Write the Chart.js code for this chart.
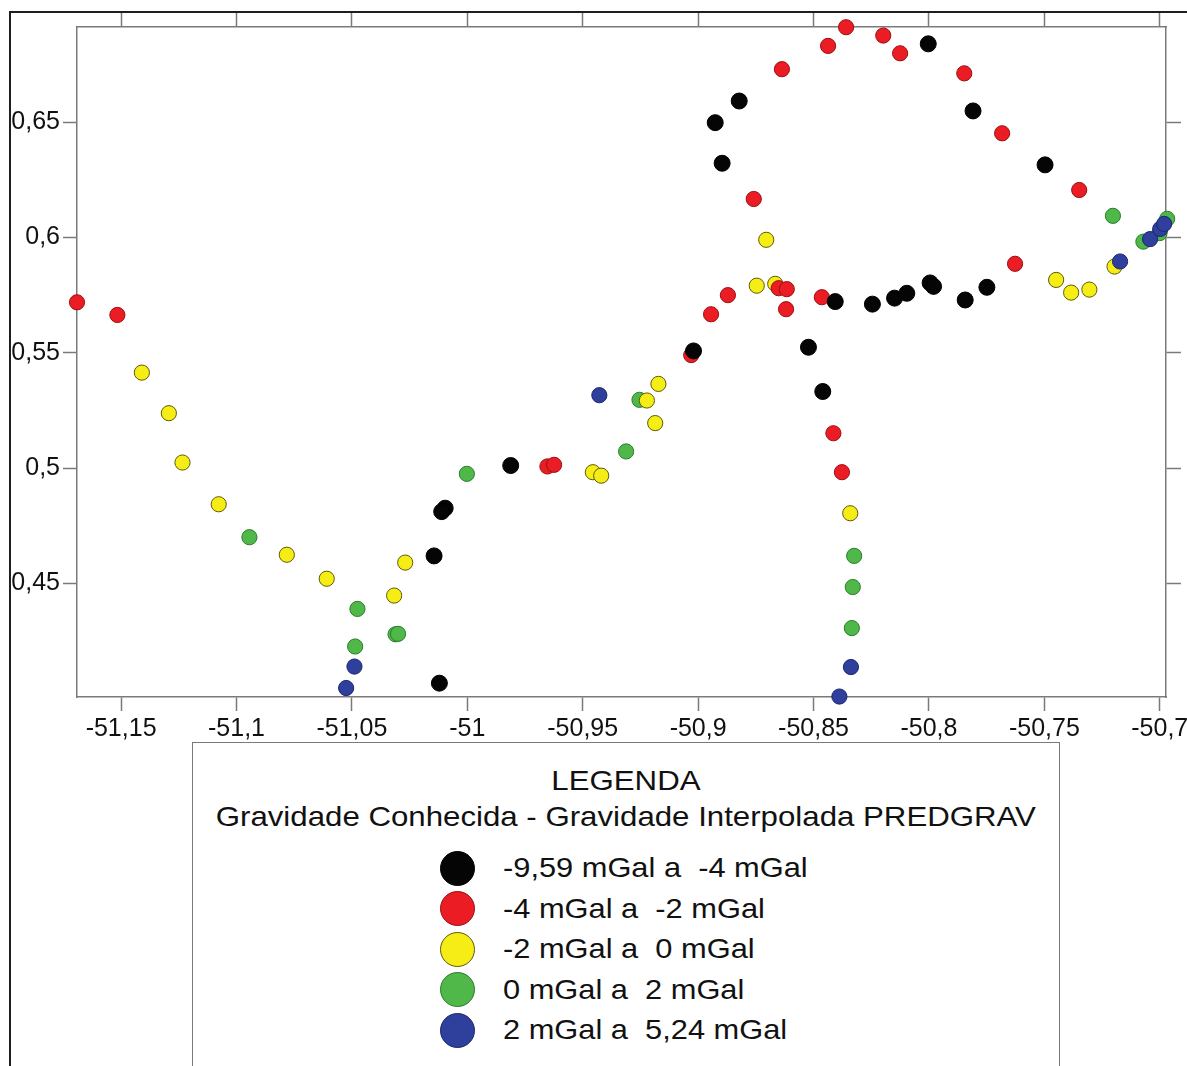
<!DOCTYPE html>
<html lang="pt-BR">
<head>
<meta charset="utf-8">
<title>Gravidade Conhecida - Gravidade Interpolada PREDGRAV</title>
<script src="https://cdn.jsdelivr.net/npm/chart.js@4.4.1/dist/chart.umd.min.js"></script>
<style>
  html, body { margin: 0; padding: 0; overflow: hidden; background: #fff; }
  #wrap { position: relative; width: 1187px; height: 1066px; }
  #chart { position: absolute; left: 0; top: 0; }
  #frame { position: absolute; left: 9px; top: 11px; width: 1190px; height: 1100px;
           border-left: 2px solid #1e1e1e; border-top: 2px solid #1e1e1e; pointer-events: none; }
  #legend { position: absolute; left: 192px; top: 742px; width: 866px; height: 400px;
            border: 1.5px solid #7a7a7a; background: #fff;
            font-family: "Liberation Sans", Arial, sans-serif; color: #111; }
  #legend .title { position: absolute; left: 0; width: 100%; text-align: center;
                   font-size: 28px; line-height: 32px; white-space: pre; }
  #legend .title span { display: inline-block; transform: scaleX(1.115); }
  #legend ul { list-style: none; margin: 0; padding: 0; position: absolute; left: 247px; top: 105px; }
  #legend li { position: relative; height: 40.5px; }
  #legend .dot { position: absolute; left: 0; top: 2.5px; width: 33px; height: 33px; border-radius: 50%;
                 border: 1.5px solid; }
  #legend .txt { position: absolute; left: 63px; top: 4px; font-size: 28px; line-height: 32px;
                 white-space: pre; transform: scaleX(1.1); transform-origin: left center; }
</style>
</head>
<body>
<div id="wrap">
  <canvas id="chart" width="1187" height="1066"></canvas>
  <div id="frame"></div>
  <div id="legend">
    <div class="title" style="top:22px"><span>LEGENDA</span></div>
    <div class="title" style="top:58px"><span>Gravidade Conhecida - Gravidade Interpolada PREDGRAV</span></div>
    <ul id="legend-items"></ul>
  </div>
</div>
<script>
// Estações gravimétricas [longitude, latitude], agrupadas pela diferença
// entre a gravidade conhecida e a interpolada pelo PREDGRAV.
const classe1 = [ // -9,59 a -4 mGal
  [-50.8003,0.6840],[-50.8822,0.6592],[-50.8926,0.6498],[-50.8896,0.6322],[-50.7809,0.6549],
  [-50.7497,0.6315],[-50.8406,0.5722],[-50.8245,0.5711],[-50.8149,0.5737],[-50.8096,0.5758],
  [-50.7995,0.5803],[-50.7980,0.5788],[-50.7843,0.5729],[-50.7749,0.5784],[-50.8522,0.5524],
  [-50.8460,0.5332],[-50.9020,0.5508],[-51.0096,0.4826],[-51.0111,0.4811],[-50.9812,0.5011],
  [-51.0144,0.4619],[-51.0121,0.4067]
];
const classe2 = [ // -4 a -2 mGal
  [-51.1691,0.5719],[-51.1516,0.5664],[-50.9653,0.5007],[-50.9624,0.5014],[-50.9030,0.5490],
  [-50.8944,0.5667],[-50.8871,0.5750],[-50.8651,0.5780],[-50.8616,0.5776],[-50.8619,0.5689],
  [-50.8464,0.5741],[-50.8414,0.5151],[-50.8377,0.4982],[-50.8759,0.6167],[-50.8637,0.6730],
  [-50.8437,0.6831],[-50.8359,0.6912],[-50.8198,0.6876],[-50.8125,0.6799],[-50.7847,0.6712],
  [-50.7683,0.6452],[-50.7349,0.6206],[-50.7627,0.5886]
];
const classe3 = [ // -2 a 0 mGal
  [-51.1410,0.5414],[-51.1293,0.5238],[-51.1234,0.5024],[-51.1077,0.4843],[-51.0782,0.4624],
  [-51.0609,0.4520],[-51.0317,0.4447],[-51.0269,0.4590],[-50.9456,0.4982],[-50.9420,0.4967],
  [-50.9172,0.5365],[-50.9222,0.5293],[-50.9186,0.5195],[-50.8705,0.5990],[-50.8746,0.5791],
  [-50.8666,0.5799],[-50.8341,0.4804],[-50.7449,0.5816],[-50.7384,0.5761],[-50.7305,0.5774],
  [-50.7196,0.5874]
];
const classe4 = [ // 0 a 2 mGal
  [-51.0944,0.4700],[-51.0476,0.4389],[-51.0486,0.4226],[-51.0311,0.4279],[-51.0300,0.4281],
  [-51.0002,0.4975],[-50.9312,0.5072],[-50.9254,0.5296],[-50.8324,0.4619],[-50.8330,0.4484],
  [-50.8334,0.4306],[-50.7203,0.6094],[-50.7071,0.5982],[-50.7001,0.6019],[-50.6968,0.6081]
];
const classe5 = [ // 2 a 5,24 mGal
  [-51.0525,0.4046],[-51.0489,0.4139],[-50.9428,0.5316],[-50.8338,0.4137],[-50.8388,0.4009],
  [-50.7172,0.5896],[-50.7042,0.5993],[-50.6998,0.6037],[-50.6981,0.6059]
];

const classLabels = [
  '-9,59 mGal a  -4 mGal',
  '-4 mGal a  -2 mGal',
  '-2 mGal a  0 mGal',
  '0 mGal a  2 mGal',
  '2 mGal a  5,24 mGal'
];

const xTickValues = [-51.15, -51.1, -51.05, -51, -50.95, -50.9, -50.85, -50.8, -50.75, -50.7];
const xTickLabels = ['-51,15', '-51,1', '-51,05', '-51', '-50,95', '-50,9', '-50,85', '-50,8', '-50,75', '-50,7'];
const yTickValues = [0.45, 0.5, 0.55, 0.6, 0.65];
const yTickLabels = ['0,45', '0,5', '0,55', '0,6', '0,65'];

const xRange = [-51.1691, -50.6973];
const yRange = [0.4007, 0.6913];

const toPoints = arr => arr.map(([x, y]) => ({ x, y }));

const styles = [
  { fill: '#050505', edge: '#000000', order: 0 },
  { fill: '#ec1c24', edge: '#9a1010', order: 1 },
  { fill: '#f6ec16', edge: '#5e5a06', order: 3 },
  { fill: '#4fb848', edge: '#2a7d2a', order: 4 },
  { fill: '#2e3f9c', edge: '#1c2670', order: 2 }
];
const groups = [classe1, classe2, classe3, classe4, classe5];

const datasets = groups.map((g, i) => ({
  label: classLabels[i],
  data: toPoints(g),
  backgroundColor: styles[i].fill,
  borderColor: styles[i].edge,
  borderWidth: 1,
  pointRadius: i === 0 ? 8 : 7.6,
  order: styles[i].order,
  clip: false
}));

// Legenda em HTML construída a partir das séries do gráfico
const htmlLegend = {
  id: 'htmlLegend',
  afterUpdate(chart) {
    const list = document.getElementById('legend-items');
    list.innerHTML = '';
    chart.data.datasets.forEach(ds => {
      const li = document.createElement('li');
      const dot = document.createElement('span');
      dot.className = 'dot';
      dot.style.background = ds.backgroundColor;
      dot.style.borderColor = ds.borderColor;
      const txt = document.createElement('span');
      txt.className = 'txt';
      txt.textContent = ds.label;
      li.appendChild(dot);
      li.appendChild(txt);
      list.appendChild(li);
    });
  }
};

const axisGray = '#7a7a7a';
const tickFont = { family: '"Liberation Sans", Arial, sans-serif', size: 25 };
const setTicks = values => scale => { scale.ticks = values.map(v => ({ value: v })); };

new Chart(document.getElementById('chart'), {
  type: 'scatter',
  data: { datasets },
  plugins: [htmlLegend],
  options: {
    responsive: false,
    animation: false,
    events: [],
    layout: { padding: { left: 10, top: 12, right: 6, bottom: 309 } },
    plugins: { legend: { display: false }, tooltip: { enabled: false } },
    scales: {
      x: {
        type: 'linear', position: 'bottom', min: xRange[0], max: xRange[1],
        afterBuildTicks: setTicks(xTickValues),
        ticks: { callback: (v, i) => xTickLabels[i], font: tickFont, color: '#111',
                 padding: 3, maxRotation: 0, autoSkip: false },
        grid: { drawOnChartArea: false, drawTicks: true, tickLength: 14, tickColor: axisGray, tickWidth: 1.5 },
        border: { display: true, color: axisGray, width: 1.5 },
        afterFit: s => { s.height = 60; s.paddingLeft = 0; s.paddingRight = 0; }
      },
      x2: {
        type: 'linear', position: 'top', min: xRange[0], max: xRange[1],
        afterBuildTicks: setTicks(xTickValues),
        ticks: { display: false },
        grid: { drawOnChartArea: false, drawTicks: true, tickLength: 15, tickColor: axisGray, tickWidth: 1.5 },
        border: { display: true, color: axisGray, width: 1.5 },
        afterFit: s => { s.height = 15; s.paddingLeft = 0; s.paddingRight = 0; }
      },
      y: {
        type: 'linear', position: 'left', min: yRange[0], max: yRange[1],
        afterBuildTicks: setTicks(yTickValues),
        ticks: { callback: (v, i) => yTickLabels[i], font: tickFont, color: '#111', padding: 3, autoSkip: false },
        grid: { drawOnChartArea: false, drawTicks: true, tickLength: 14, tickColor: axisGray, tickWidth: 1.5 },
        border: { display: true, color: axisGray, width: 1.5 },
        afterFit: s => { s.width = 67; s.paddingTop = 0; s.paddingBottom = 0; }
      },
      y2: {
        type: 'linear', position: 'right', min: yRange[0], max: yRange[1],
        afterBuildTicks: setTicks(yTickValues),
        ticks: { display: false },
        grid: { drawOnChartArea: false, drawTicks: true, tickLength: 15, tickColor: axisGray, tickWidth: 1.5 },
        border: { display: true, color: axisGray, width: 1.5 },
        afterFit: s => { s.width = 15; s.paddingTop = 0; s.paddingBottom = 0; }
      }
    }
  }
});
</script>
</body>
</html>
